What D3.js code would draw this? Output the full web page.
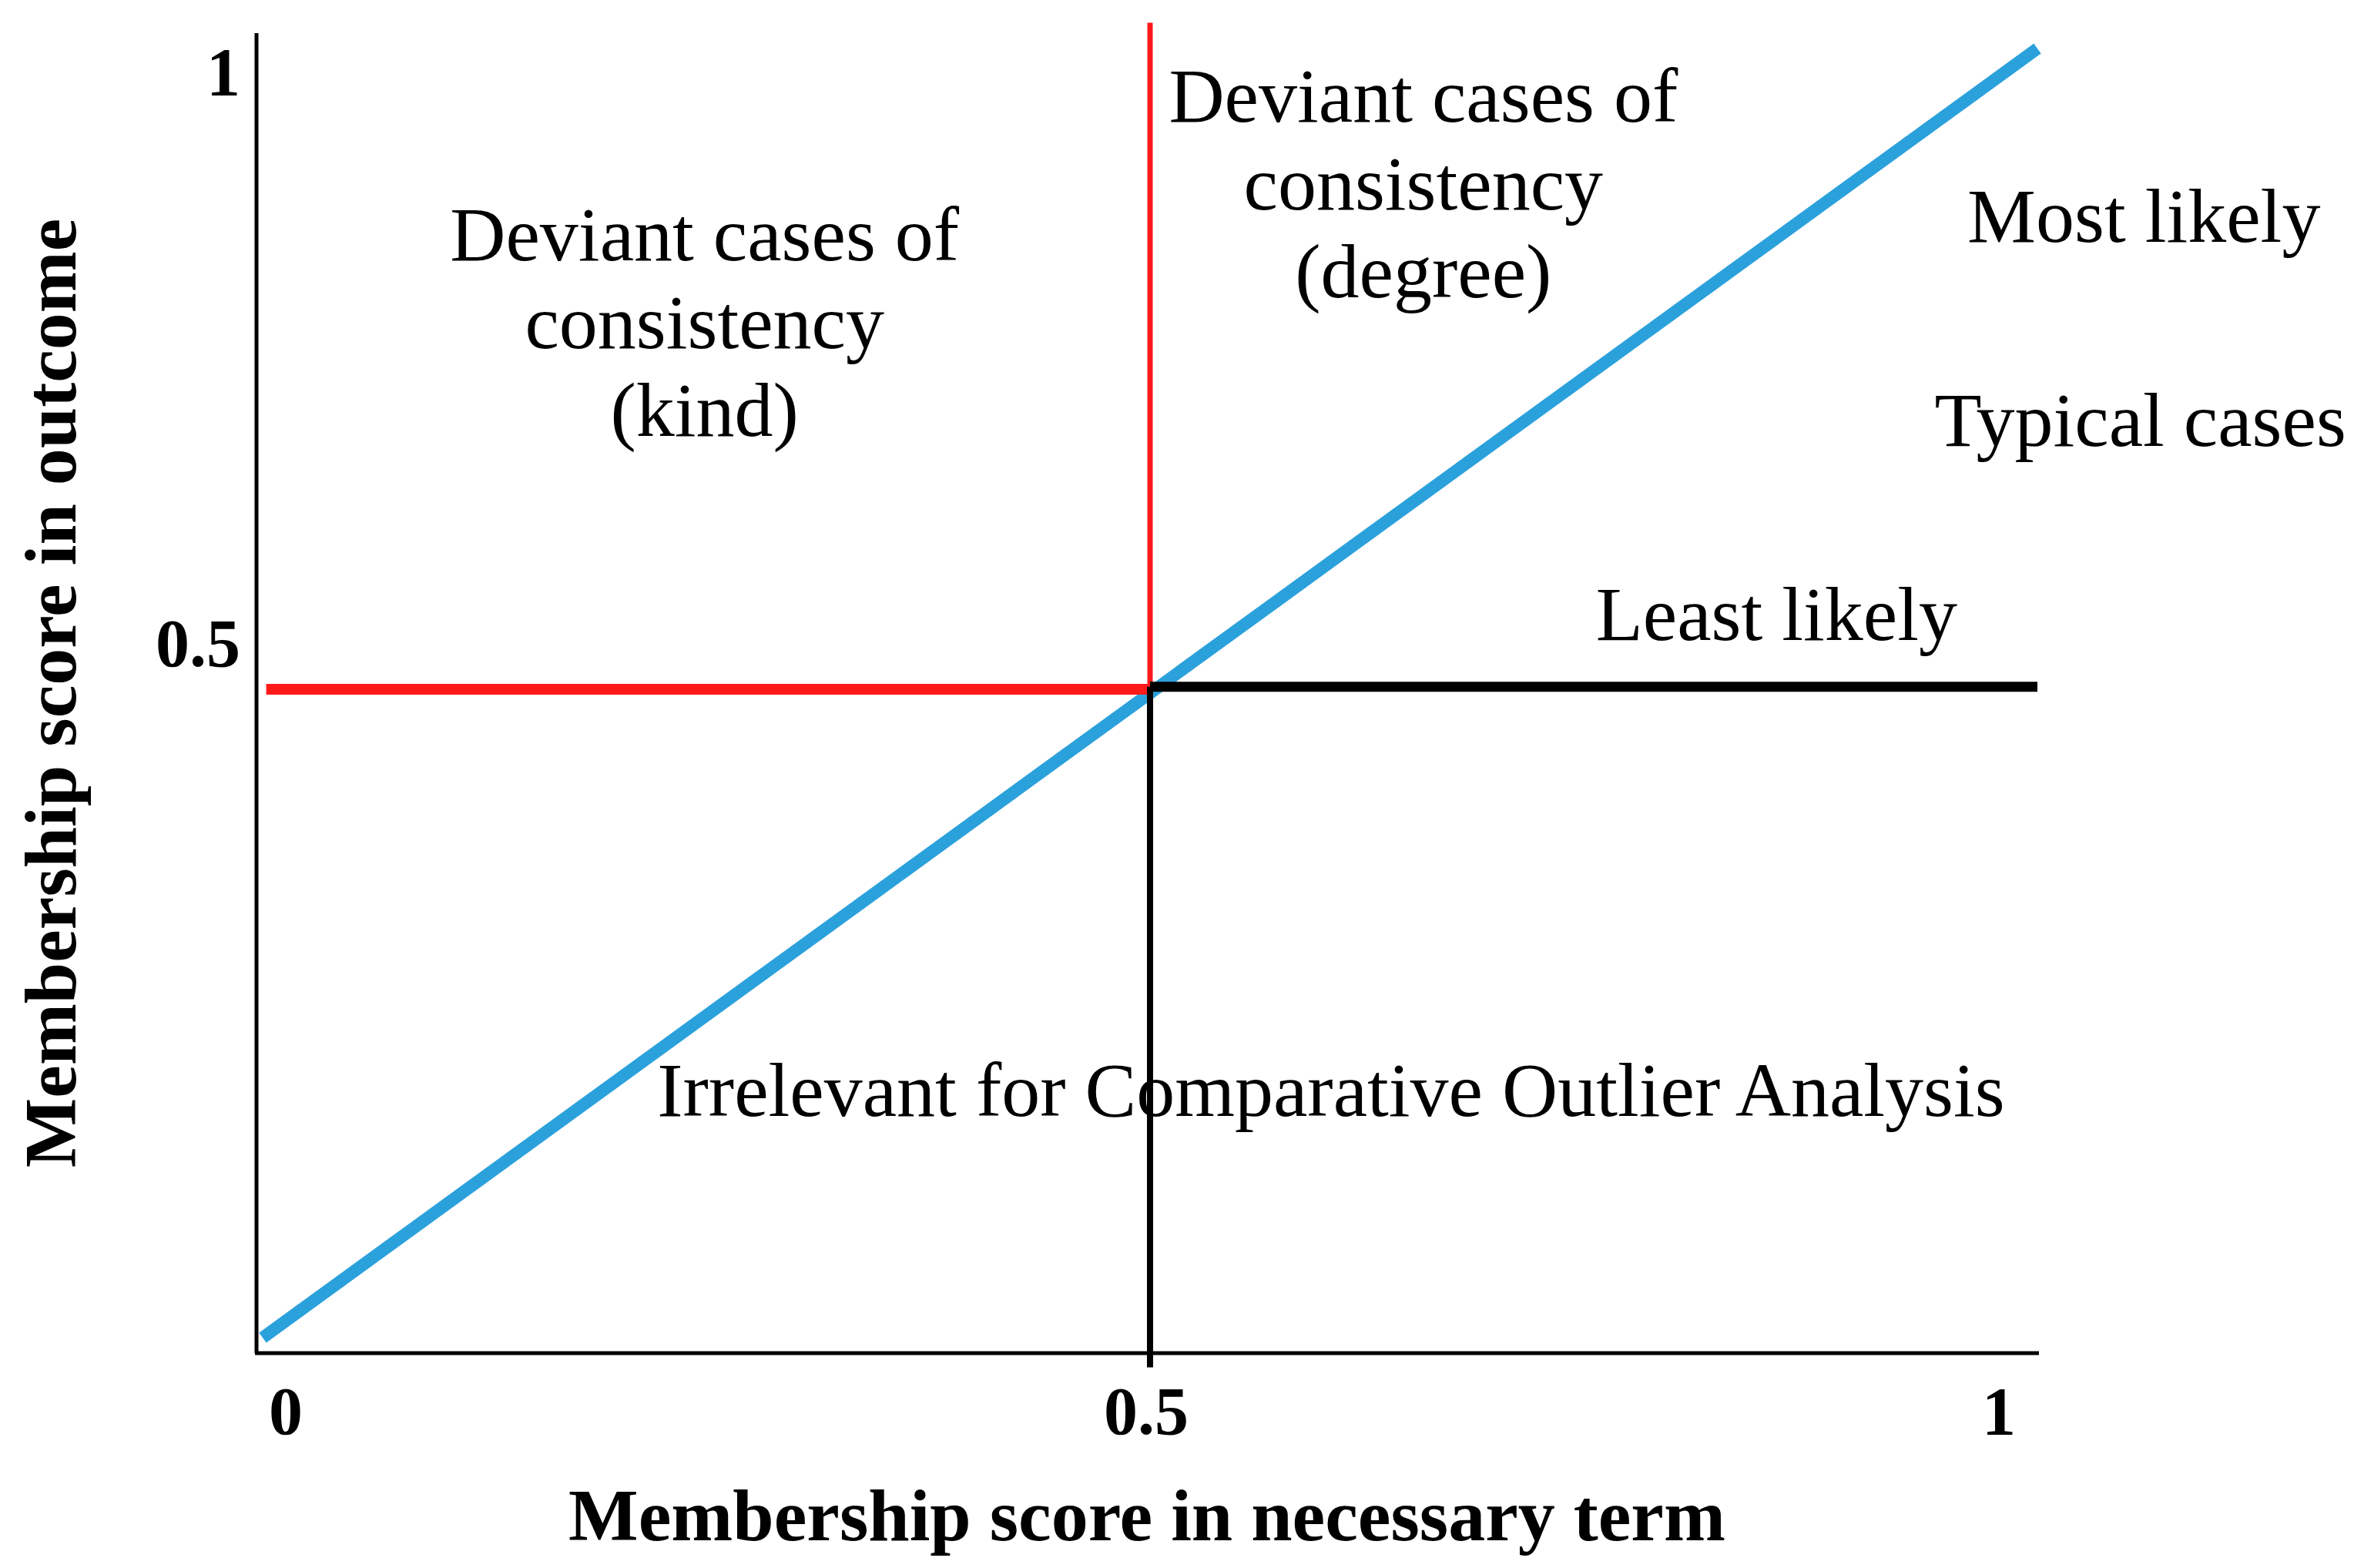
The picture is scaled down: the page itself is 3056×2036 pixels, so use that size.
<!DOCTYPE html><html><head><meta charset="utf-8"><script src="https://d3js.org/d3.v7.min.js"></script>
<style>body{margin:0;background:#fff}</style></head><body><svg id="c" width="3056" height="2036"></svg>
<script>
const xTicks=[0,0.5,1], xTickLabels=["0","0.5","1"];
const yTicks=[0.5,1], yTickLabels=["0.5","1"];
const diagonal=[[0,0],[1,1]];
const redLines=[[[0.5,1.02],[0.5,0.503]],[[0.002,0.503],[0.5,0.503]]];
const blackLines=[[[0.5,0.505],[1,0.505]],[[0.5,0.505],[0.5,-0.023]]];
const notes=[
 {x:0.249,y:0.836,lines:["Deviant cases of","consistency","(kind)"]},
 {x:0.654,y:0.943,lines:["Deviant cases of","consistency","(degree)"]},
 {x:1.06,y:0.85,lines:["Most likely"]},
 {x:1.058,y:0.692,lines:["Typical cases"]},
 {x:0.853,y:0.541,lines:["Least likely"]},
 {x:0.602,y:0.172,lines:["Irrelevant for Comparative Outlier Analysis"]}];
const svg=d3.select("#c");
const x=d3.scaleLinear().domain([0,1]).range([341,2645]);
const y=d3.scaleLinear().domain([0,1]).range([1737,63]);
const serif="'Liberation Serif','Times New Roman',serif";
svg.append("line").attr("x1",333).attr("x2",333).attr("y1",43).attr("y2",1757).attr("stroke","#000").attr("stroke-width",5);
svg.append("line").attr("x1",331).attr("x2",2647).attr("y1",1757).attr("y2",1757).attr("stroke","#000").attr("stroke-width",5);
const line=d3.line().x(d=>x(d[0])).y(d=>y(d[1]));
svg.append("path").attr("d",line(diagonal)).attr("stroke","#2ba1dc").attr("stroke-width",16).attr("fill","none");
redLines.forEach(l=>svg.append("path").attr("d",line(l)).attr("stroke","#ff1a1a").attr("stroke-width",l[0][0]===l[1][0]?7:14).attr("fill","none"));
blackLines.forEach(l=>svg.append("path").attr("d",line(l)).attr("stroke","#000").attr("stroke-width",l[0][0]===l[1][0]?8:13).attr("fill","none"));
xTicks.forEach((t,i)=>svg.append("text").attr("x",x(t)+(i==0?30:i==2?-50:-5)).attr("y",1862).attr("text-anchor","middle").attr("font-family",serif).attr("font-weight","bold").attr("font-size",88).text(xTickLabels[i]));
yTicks.forEach((t,i)=>svg.append("text").attr("x",312).attr("y",y(t)+(i==0?-35:60)).attr("text-anchor","end").attr("font-family",serif).attr("font-weight","bold").attr("font-size",88).text(yTickLabels[i]));
svg.append("text").attr("x",1489).attr("y",2000).attr("text-anchor","middle").attr("font-family",serif).attr("font-weight","bold").attr("font-size",96).text("Membership score in necessary term");
svg.append("text").attr("transform","translate(98,900) rotate(-90)").attr("text-anchor","middle").attr("font-family",serif).attr("font-weight","bold").attr("font-size",96).text("Membership score in outcome");
notes.forEach(n=>{n.lines.forEach((s,i)=>svg.append("text").attr("x",x(n.x)).attr("y",y(n.y)+i*114).attr("text-anchor","middle").attr("font-family",serif).attr("font-size",100).text(s));});
</script></body></html>
